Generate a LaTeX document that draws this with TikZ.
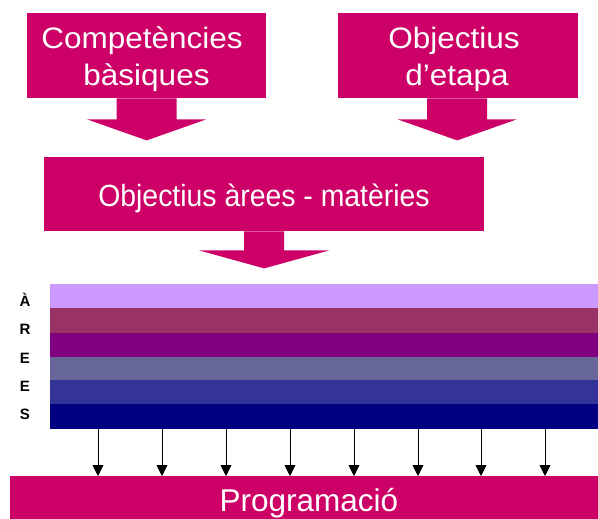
\documentclass[tikz,border=0pt]{standalone}
\usepackage{fontspec}
\setmainfont{Liberation Sans}
\usetikzlibrary{arrows.meta}
\definecolor{mag}{HTML}{CC0066}
\definecolor{st1}{HTML}{CC99FF}
\definecolor{st2}{HTML}{993366}
\definecolor{st3}{HTML}{800080}
\definecolor{st4}{HTML}{666699}
\definecolor{st5}{HTML}{333399}
\definecolor{st6}{HTML}{000080}
\newcommand{\topt}[1]{\scalebox{1}[0.94]{#1}}
\newcommand{\midt}[1]{\scalebox{1}[1.08]{#1}}
\begin{document}
\begin{tikzpicture}[x=1pt,y=-1pt,
  box/.style={fill=mag, draw=none, inner sep=0pt, anchor=north west},
  btext/.style={text=white, inner sep=0pt, anchor=base, font=\fontsize{31.5}{39}\selectfont},
  mtext/.style={text=white, inner sep=0pt, anchor=base, font=\fontsize{28.4}{34}\selectfont},
  blockarrow/.style={fill=mag, draw=none},
  stripe/.style={draw=none, inner sep=0pt, anchor=north west, minimum width=548pt, outer sep=0pt},
  letter/.style={inner sep=0pt, font=\fontsize{15}{17}\selectfont\bfseries},
  down/.style={-{Triangle[width=11pt,length=11pt]}, line width=0.9pt, draw=black}]
\clip (0,0) rectangle (598,519);
\fill[white] (0,0) rectangle (598,519);
% top boxes
\node[box, minimum width=239pt, minimum height=85pt] (cb) at (27,13) {};
\node[btext] (cbt1) at (142,49) {\topt{Competències}};
\node[btext] (cbt2) at (146.5,86) {\topt{bàsiques}};
\node[box, minimum width=240pt, minimum height=85pt] (oe) at (338,13) {};
\node[btext] (oet1) at (454,49) {\topt{Objectius}};
\node[btext] (oet2) at (457,86) {\topt{d’etapa}};
% middle box
\node[box, minimum width=440pt, minimum height=74pt] (oa) at (44,157) {};
\node[mtext] (oat) at (264,207) {\midt{Objectius àrees - matèries}};
% block arrows
\coordinate (a1) at (cb.south);
\fill[blockarrow] ([xshift=-30pt]a1) -- ++(0,21) -- ++(-29.5,0) -- ++(59.5,21) -- ++(59.5,-21) -- ++(-29.5,0) -- ++(0,-21) -- cycle;
\coordinate (a2) at ([xshift=-1pt]oe.south);
\fill[blockarrow] ([xshift=-30pt]a2) -- ++(0,21) -- ++(-29.5,0) -- ++(59.5,21) -- ++(59.5,-21) -- ++(-29.5,0) -- ++(0,-21) -- cycle;
\coordinate (a3) at (oa.south);
\fill[blockarrow] ([xshift=-20pt]a3) -- ++(0,19) -- ++(-45,0) -- ++(65,18) -- ++(65,-18) -- ++(-45,0) -- ++(0,-19) -- cycle;
% stripes
\node[stripe, fill=st1, minimum height=24pt] (s1) at (50,284) {};
\node[stripe, fill=st2, minimum height=25pt] (s2) at (50,308) {};
\node[stripe, fill=st3, minimum height=24pt] (s3) at (50,333) {};
\node[stripe, fill=st4, minimum height=23pt] (s4) at (50,357) {};
\node[stripe, fill=st5, minimum height=24pt] (s5) at (50,380) {};
\node[stripe, fill=st6, minimum height=25pt] (s6) at (50,404) {};
% letters
\node[letter] (l1) at (25,300) {À};
\node[letter] (l2) at (25,329) {R};
\node[letter] (l3) at (25,358) {E};
\node[letter] (l4) at (25,386) {E};
\node[letter] (l5) at (25,414) {S};
% bottom box
\node[box, minimum width=588pt, minimum height=60pt] (pg) at (10,476) {};
\node[btext] (pgt) at (309,511) {Programació};
% small arrows
\foreach \i/\xx in {1/98,2/162,3/226,4/290,5/354,6/418,7/481,8/545}{
  \coordinate (t\i) at (\xx,0);
  \draw[down] (s6.south -| t\i) -- (pg.north -| t\i);
}
\end{tikzpicture}
\end{document}
